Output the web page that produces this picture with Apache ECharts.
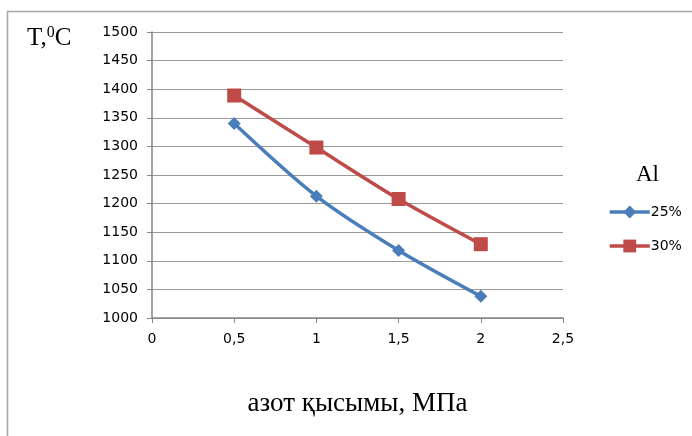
<!DOCTYPE html>
<html>
<head>
<meta charset="utf-8">
<script src="https://cdn.jsdelivr.net/npm/echarts@6/dist/echarts.min.js"></script>
<style>
  html, body { margin: 0; padding: 0; background: #fff; }
  #chart { width: 692px; height: 436px; }
</style>
</head>
<body>
<div id="chart"></div>
<script>
// pressure, MPa
const pressure = [0.5, 1, 1.5, 2];
// temperature, °C
const temp25 = [1340, 1213, 1118, 1038];
const temp30 = [1389, 1298, 1208, 1129];
const seriesNames = ['25%', '30%'];

const pairs = (xs, ys) => xs.map((x, i) => [x, ys[i]]);

let myChart = echarts.init(document.getElementById('chart'));
let option = {
    backgroundColor: '#fff',
    animation: false,
    textStyle: { fontFamily: 'DejaVu Sans' },
    grid: { left: 152, right: 129, top: 32, bottom: 118 },
    graphic: [
        {
            type: 'rect',
            shape: { x: 7.5, y: 11.5, width: 720, height: 460 },
            style: { fill: 'none', stroke: '#a6a6a6', lineWidth: 1.5 },
            silent: true
        },
        {
            type: 'text',
            left: 27, top: 25,
            style: {
                text: '{a|T,}{s|0}{a|C}',
                rich: {
                    a: { fontFamily: 'Liberation Serif', fontSize: 25, color: '#000', verticalAlign: 'bottom' },
                    s: { fontFamily: 'Liberation Serif', fontSize: 16, color: '#000', verticalAlign: 'top', padding: [0, 0, 10, 0] }
                }
            }
        },
        {
            type: 'text',
            left: 636, top: 163,
            style: { text: 'Al', fontFamily: 'Liberation Serif', fontSize: 23, fill: '#000' }
        }
    ],
    legend: {
        orient: 'vertical',
        left: 603,
        top: 200,
        itemGap: 20,
        itemWidth: 40,
        itemHeight: 16,
        lineStyle: { width: 3.5 },
        textStyle: { fontFamily: 'DejaVu Sans', fontSize: 14, color: '#000', padding: [0, 0, 0, -4] },
        data: seriesNames
    },
    xAxis: {
        type: 'value',
        min: 0, max: 2.5, interval: 0.5,
        axisLine: { lineStyle: { color: '#868686', width: 1.5 } },
        axisTick: { show: true, length: 5, lineStyle: { color: '#868686' } },
        axisLabel: {
            margin: 14, fontSize: 14, color: '#000',
            formatter: v => String(v).replace('.', ',')
        },
        splitLine: { show: false },
        name: 'азот қысымы, МПа',
        nameLocation: 'middle',
        nameGap: 72,
        nameTextStyle: { fontFamily: 'Liberation Serif', fontSize: 27, color: '#000' }
    },
    yAxis: {
        type: 'value',
        min: 1000, max: 1500, interval: 50,
        axisLine: { show: true, lineStyle: { color: '#868686', width: 1.5 } },
        axisTick: { show: true, length: 5, lineStyle: { color: '#868686' } },
        axisLabel: { margin: 14, fontSize: 14, color: '#000', formatter: v => String(v) },
        splitLine: { lineStyle: { color: '#999999', width: 1 } }
    },
    series: [
        {
            name: seriesNames[0],
            type: 'line',
            smooth: 0.3,
            symbol: 'diamond',
            symbolSize: 13,
            itemStyle: { color: '#4a7ebb' },
            lineStyle: { width: 3.5, color: '#4a7ebb' },
            data: pairs(pressure, temp25)
        },
        {
            name: seriesNames[1],
            type: 'line',
            smooth: 0.3,
            symbol: 'rect',
            symbolSize: 14,
            itemStyle: { color: '#be4b48' },
            lineStyle: { width: 3.5, color: '#be4b48' },
            data: pairs(pressure, temp30)
        }
    ]
};
myChart.setOption(option);
</script>
</body>
</html>
